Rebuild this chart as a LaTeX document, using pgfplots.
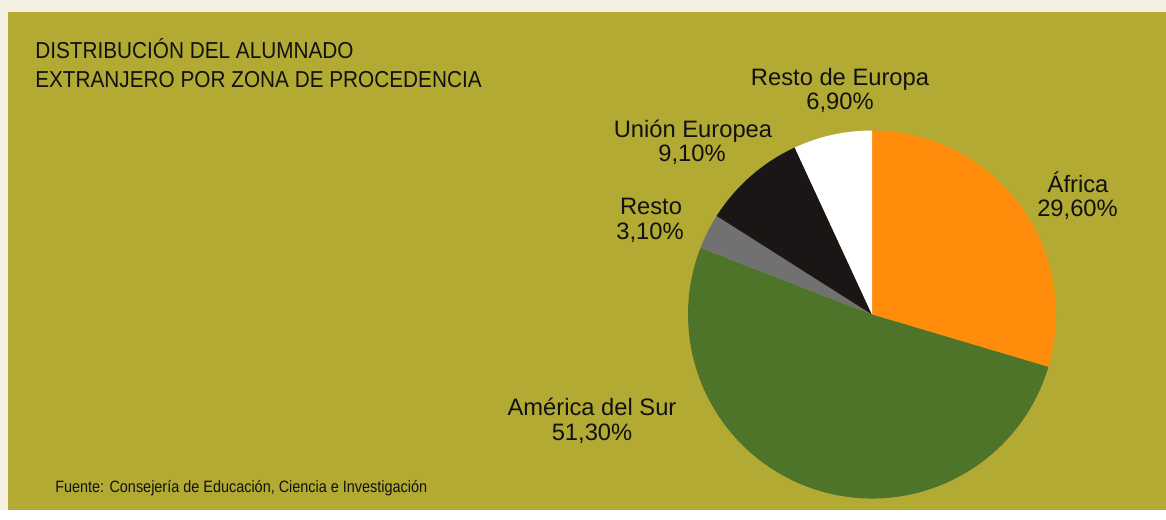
\documentclass[border=0pt]{standalone}
\usepackage{pgfplots}
\pgfplotsset{compat=1.18}
\usepackage{fontspec}
\setmainfont{Liberation Sans}
\newfontfamily\titlefont{Liberation Sans}[FakeStretch=0.9]
\newfontfamily\srcfont{Liberation Sans}[FakeStretch=0.88]
\definecolor{bgcream}{HTML}{F3F0E2}
\definecolor{bgolive}{HTML}{B2AA33}
\definecolor{cafrica}{HTML}{FF8C0A}
\definecolor{camerica}{HTML}{4E742A}
\definecolor{cresto}{HTML}{717171}
\definecolor{cue}{HTML}{1A1615}
\definecolor{cre}{HTML}{FFFFFF}
\definecolor{txt}{HTML}{111111}
\begin{document}
\begin{tikzpicture}
\begin{axis}[
  scale only axis, width=874.5pt, height=382.5pt,
  xmin=0, xmax=1166, ymin=0, ymax=510,
  hide axis, clip=false,
]
\fill[bgcream] (axis cs:0,0) rectangle (axis cs:1166,510);
\fill[bgolive] (axis cs:8,0) rectangle (axis cs:1166,498);
% pie: shares in percent, clockwise from the top
\def\R{138pt}
\fill[cafrica]  (axis cs:872,195.5) -- ++(90:\R) arc[start angle=90, delta angle=-29.6*3.6, radius=\R] -- cycle;
\fill[camerica] (axis cs:872,195.5) -- ++({90-29.6*3.6}:\R) arc[start angle={90-29.6*3.6}, delta angle=-51.3*3.6, radius=\R] -- cycle;
\fill[cresto]   (axis cs:872,195.5) -- ++({90-80.9*3.6}:\R) arc[start angle={90-80.9*3.6}, delta angle=-3.1*3.6, radius=\R] -- cycle;
\fill[cue]      (axis cs:872,195.5) -- ++({90-84.0*3.6}:\R) arc[start angle={90-84.0*3.6}, delta angle=-9.1*3.6, radius=\R] -- cycle;
\fill[cre]      (axis cs:872,195.5) -- ++({90-93.1*3.6}:\R) arc[start angle={90-93.1*3.6}, delta angle=-6.9*3.6, radius=\R] -- cycle;
% title
\node[anchor=base west, inner sep=0, text=txt, font=\titlefont\fontsize{17.3pt}{20pt}\selectfont] at (axis cs:35,451) {DISTRIBUCIÓN DEL ALUMNADO};
\node[anchor=base west, inner sep=0, text=txt, font=\titlefont\fontsize{17.3pt}{20pt}\selectfont] at (axis cs:35,422.7) {EXTRANJERO POR ZONA DE PROCEDENCIA};
% labels
\tikzset{lab/.style={anchor=base, inner sep=0, text=txt, font=\fontsize{17.8pt}{20pt}\selectfont}}
\node[lab] at (axis cs:840,424.3) {Resto de Europa};
\node[lab] at (axis cs:840,400) {6,90\%};
\node[lab] at (axis cs:693,372.3) {Unión Europea};
\node[lab] at (axis cs:692,348.3) {9,10\%};
\node[lab] at (axis cs:651,295.3) {Resto};
\node[lab] at (axis cs:650,271) {3,10\%};
\node[lab] at (axis cs:1078,317.7) {África};
\node[lab] at (axis cs:1077.5,293.3) {29,60\%};
\node[lab] at (axis cs:592,94.3) {América del Sur};
\node[lab] at (axis cs:592,69.3) {51,30\%};
% source
\node[anchor=base west, inner sep=0, text=txt, font=\srcfont\fontsize{12.3pt}{14pt}\selectfont] at (axis cs:55,17.7) {Fuente: Consejería de Educación, Ciencia e Investigación};
\end{axis}
\end{tikzpicture}
\end{document}
